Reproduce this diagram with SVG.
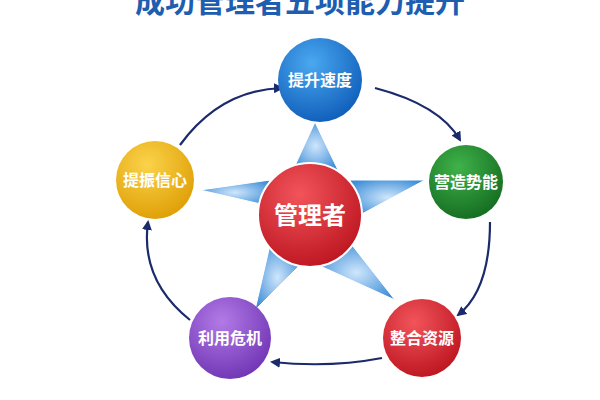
<svg xmlns="http://www.w3.org/2000/svg" width="600" height="400" viewBox="0 0 600 400">
<style>
.t{font-family:"Liberation Sans","Noto Sans CJK SC",sans-serif;font-weight:bold;fill:#fff;text-anchor:middle}
.c{fill:none;stroke:#1b2a6b;stroke-width:2.2;marker-end:url(#ah)}
.s{fill:url(#sg);stroke:#fff;stroke-width:1}
</style>
<defs>
<marker id="ah" markerWidth="10" markerHeight="10" refX="8" refY="5" orient="auto" markerUnits="userSpaceOnUse"><path d="M0,0 L10,5 L0,10 z" fill="#1b2a6b"/></marker>
<radialGradient id="sg" cx="0.5" cy="0.5" r="0.6"><stop offset="0" stop-color="#cfe6fb"/><stop offset="1" stop-color="#3f8fd8"/></radialGradient>
<radialGradient id="gb" cx="0.4" cy="0.3" r="0.8"><stop offset="0" stop-color="#4aa8f0"/><stop offset="1" stop-color="#0a57b5"/></radialGradient>
<radialGradient id="gg" cx="0.4" cy="0.3" r="0.8"><stop offset="0" stop-color="#3fb24a"/><stop offset="1" stop-color="#11661d"/></radialGradient>
<radialGradient id="gr" cx="0.4" cy="0.3" r="0.8"><stop offset="0" stop-color="#f2545a"/><stop offset="1" stop-color="#b8101c"/></radialGradient>
<radialGradient id="gp" cx="0.4" cy="0.3" r="0.8"><stop offset="0" stop-color="#b27ae6"/><stop offset="1" stop-color="#6a2fb0"/></radialGradient>
<radialGradient id="gy" cx="0.4" cy="0.3" r="0.8"><stop offset="0" stop-color="#fbd34a"/><stop offset="1" stop-color="#dc9a00"/></radialGradient>
</defs>
<rect width="600" height="400" fill="#fff"/>
<text x="300" y="12" font-family="Liberation Sans,Noto Sans CJK SC,sans-serif" font-weight="bold" font-size="30" fill="#1e5db0" text-anchor="middle">成功管理者五项能力提升</text>
<g id="connectors">
<path class="c" d="M375,88 Q440,105 460,140"/>
<path class="c" d="M490,222 Q490,290 458,315"/>
<path class="c" d="M382,358 Q330,368 272,362"/>
<path class="c" d="M190,320 Q140,280 148,222"/>
<path class="c" d="M180,145 Q220,90 282,88"/>
</g>
<g id="star">
<polygon class="s" points="293,170 315,122 338,170"/>
<polygon class="s" points="350,180 425,180 360,215"/>
<polygon class="s" points="352,245 395,300 318,265"/>
<polygon class="s" points="300,265 255,310 270,245"/>
<polygon class="s" points="265,205 200,190 270,180"/>
</g>
<g id="center"><circle cx="310" cy="215" r="52" fill="url(#gr)" stroke="#fff" stroke-width="2"/><text class="t" x="310" y="224" font-size="24">管理者</text></g>
<g id="n1"><circle cx="320" cy="80" r="42" fill="url(#gb)"/><text class="t" x="320" y="86" font-size="16">提升速度</text></g>
<g id="n2"><circle cx="466" cy="182" r="37" fill="url(#gg)"/><text class="t" x="466" y="188" font-size="16">营造势能</text></g>
<g id="n3"><circle cx="422" cy="338" r="39" fill="url(#gr)"/><text class="t" x="422" y="344" font-size="16">整合资源</text></g>
<g id="n4"><circle cx="230" cy="338" r="41" fill="url(#gp)"/><text class="t" x="230" y="344" font-size="16">利用危机</text></g>
<g id="n5"><circle cx="155" cy="180" r="39" fill="url(#gy)"/><text class="t" x="155" y="186" font-size="16">提振信心</text></g>
</svg>
